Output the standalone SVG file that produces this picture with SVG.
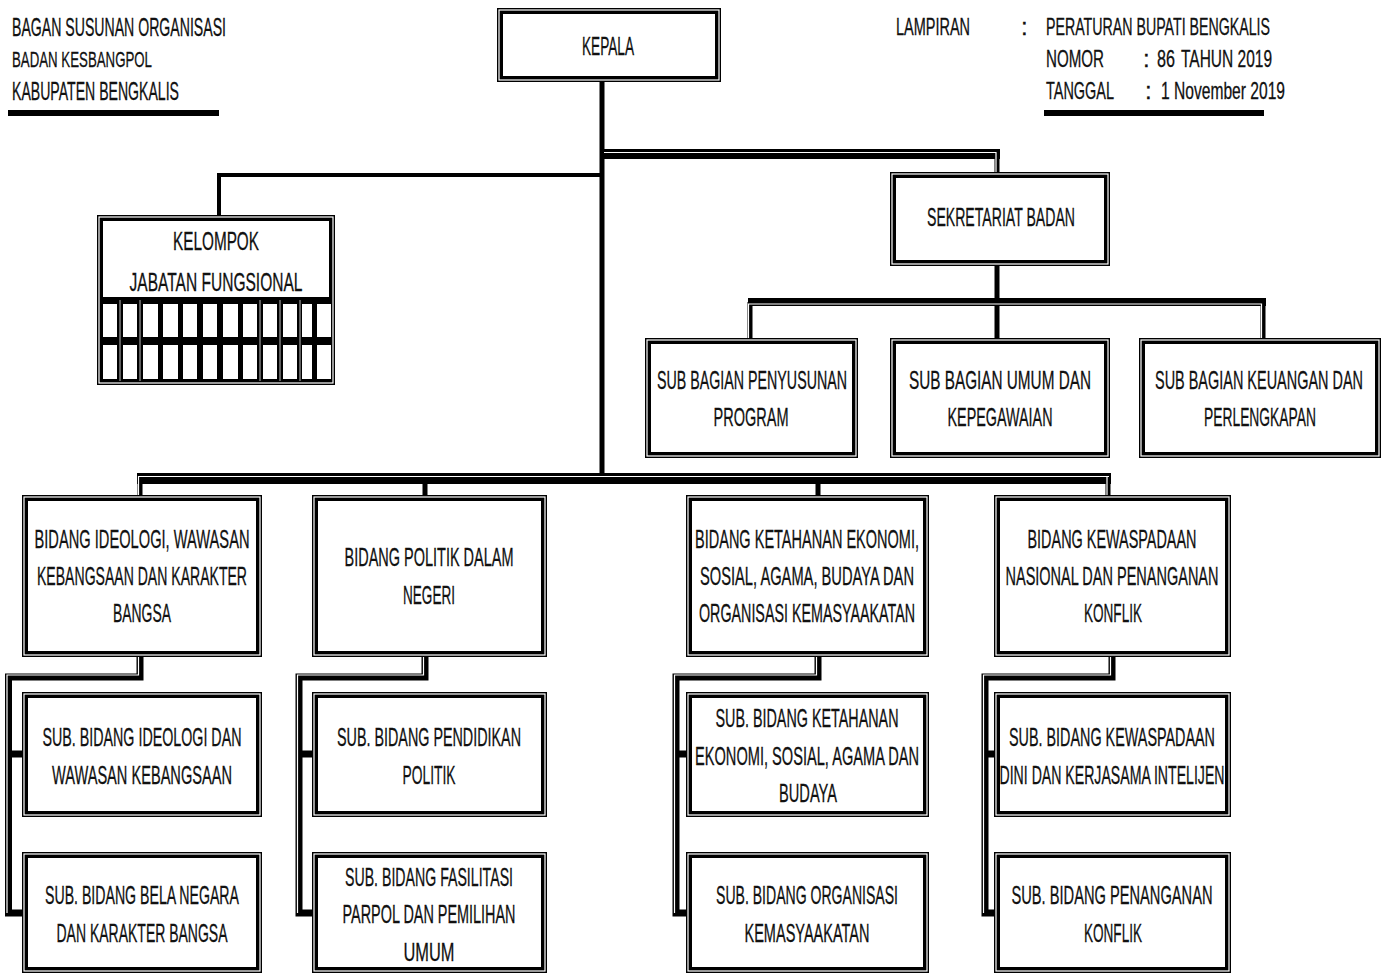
<svg xmlns="http://www.w3.org/2000/svg" width="1387" height="973" viewBox="0 0 1387 973">
<style>
text{font-family:"Liberation Sans",Arial,sans-serif;fill:#111;stroke:#111;stroke-width:0.3;}
.t{font-size:26px;text-anchor:middle;}
.h{font-size:24px;}
.b{fill:#fff;stroke:#000;stroke-width:6;}
.w{fill:none;stroke:#fff;stroke-width:1.2;}
.ln{fill:none;stroke:#000;stroke-linejoin:miter;stroke-linecap:butt;}
.wl{fill:none;stroke:#fff;stroke-width:1.2;}
</style>
<rect width="1387" height="973" fill="#fff"/>

<g id="header">
<text x="12" y="36" style="font-size:26px" textLength="214" lengthAdjust="spacingAndGlyphs">BAGAN SUSUNAN ORGANISASI</text>
<text x="12" y="67" style="font-size:22px" textLength="140" lengthAdjust="spacingAndGlyphs">BADAN KESBANGPOL</text>
<text x="12" y="100" style="font-size:25px" textLength="167" lengthAdjust="spacingAndGlyphs">KABUPATEN BENGKALIS</text>
<rect x="8" y="110" width="211" height="6" fill="#000"/>
<text class="h" x="896" y="35" textLength="74" lengthAdjust="spacingAndGlyphs">LAMPIRAN</text>
<text class="h" x="1021" y="35">:</text>
<text class="h" x="1046" y="35" textLength="224" lengthAdjust="spacingAndGlyphs">PERATURAN BUPATI BENGKALIS</text>
<text class="h" x="1046" y="67" textLength="58" lengthAdjust="spacingAndGlyphs">NOMOR</text>
<text class="h" x="1143" y="67">:</text>
<text class="h" x="1157" y="67" textLength="18" lengthAdjust="spacingAndGlyphs">86</text>
<text class="h" x="1181" y="67" textLength="91" lengthAdjust="spacingAndGlyphs">TAHUN 2019</text>
<text class="h" x="1046" y="99" textLength="68" lengthAdjust="spacingAndGlyphs">TANGGAL</text>
<text class="h" x="1145" y="99">:</text>
<text class="h" x="1161" y="99" textLength="124" lengthAdjust="spacingAndGlyphs">1 November 2019</text>
<rect x="1044" y="110" width="220" height="6" fill="#000"/>
</g>

<g id="connectors">
<path class="ln" d="M602,82 V479" stroke-width="5"/>
<path class="ln" d="M602,175 H219 V215" stroke-width="4"/>
<path class="ln" d="M600,154 H1000" stroke-width="10"/>
<path class="ln" d="M997,154 V172" stroke-width="5"/>
<path class="wl" d="M604,152.5 H996 V172"/>
<path class="ln" d="M997,266 V302" stroke-width="5"/>
<path class="ln" d="M748,302 H1266" stroke-width="8"/>
<path class="ln" d="M750,302 V338 M997,302 V338 M1263,302 V338" stroke-width="5"/>
<path class="wl" d="M748.5,338 V304 H1261.5 V338"/>
<path class="ln" d="M137,478.5 H1111" stroke-width="11"/>
<path class="ln" d="M140,478 V495 M425,478 V495 M818,478 V495 M1108,478 V495" stroke-width="5"/>
<path class="wl" d="M138.5,495 V476.5 H1109"/>
<path class="wl" d="M1107,477 V495"/>
<path class="ln" d="M140,657 V677 H8.5 V913 H22 M8.5,754 H22" stroke-width="7"/>
<path class="wl" d="M138.5,657 V675 H7 V913"/>
<path class="ln" d="M425,657 V677 H299 V913 H312 M299,754 H312" stroke-width="7"/>
<path class="wl" d="M423.5,657 V675 H297.5 V913"/>
<path class="ln" d="M818,657 V677 H676 V913 H686 M676,754 H686" stroke-width="7"/>
<path class="wl" d="M816.5,657 V675 H674.5 V913"/>
<path class="ln" d="M1112,657 V677 H985 V913 H994 M985,754 H994" stroke-width="7"/>
<path class="wl" d="M1110.5,657 V675 H983.5 V913"/>
</g>

<g id="kepala">
<rect class="b" x="500" y="11" width="218" height="68"/><rect class="w" x="499" y="10" width="220" height="70"/>
<text class="t" x="608" y="55" textLength="52" lengthAdjust="spacingAndGlyphs">KEPALA</text>
</g>

<g id="kelompok">
<rect class="b" x="100" y="218" width="232" height="164"/><rect class="w" x="99" y="217" width="234" height="166"/>
<rect x="101" y="297" width="231" height="85" fill="#000"/>
<g fill="#fff">
<rect x="103" y="304" width="14" height="33"/><rect x="123" y="304" width="14" height="33"/><rect x="143" y="304" width="15" height="33"/><rect x="163" y="304" width="15" height="33"/><rect x="183" y="304" width="14" height="33"/><rect x="203" y="304" width="14" height="33"/><rect x="223" y="304" width="15" height="33"/><rect x="243" y="304" width="14" height="33"/><rect x="263" y="304" width="14" height="33"/><rect x="283" y="304" width="14" height="33"/><rect x="302" y="304" width="10" height="33"/><rect x="317" y="304" width="14" height="33"/>
<rect x="103" y="345" width="14" height="34"/><rect x="123" y="345" width="14" height="34"/><rect x="143" y="345" width="15" height="34"/><rect x="163" y="345" width="15" height="34"/><rect x="183" y="345" width="14" height="34"/><rect x="203" y="345" width="14" height="34"/><rect x="223" y="345" width="15" height="34"/><rect x="243" y="345" width="14" height="34"/><rect x="263" y="345" width="14" height="34"/><rect x="283" y="345" width="14" height="34"/><rect x="302" y="345" width="10" height="34"/><rect x="317" y="345" width="14" height="34"/>
</g>
<path d="M120,300 V381 M140,300 V381 M260,300 V381 M280,300 V381 M300,300 V381" stroke="#bbb" stroke-width="1"/>
<text class="t" x="216" y="250" textLength="86" lengthAdjust="spacingAndGlyphs">KELOMPOK</text>
<text class="t" x="216" y="291" textLength="173" lengthAdjust="spacingAndGlyphs">JABATAN FUNGSIONAL</text>
</g>

<g id="sekretariat">
<rect class="b" x="893" y="175" width="214" height="88"/><rect class="w" x="892" y="174" width="216" height="90"/>
<text class="t" x="1001" y="226" textLength="148" lengthAdjust="spacingAndGlyphs">SEKRETARIAT BADAN</text>
</g>

<g id="subbag-program">
<rect class="b" x="648" y="341" width="207" height="114"/><rect class="w" x="647" y="340" width="209" height="116"/>
<text class="t" x="752" y="389" textLength="190" lengthAdjust="spacingAndGlyphs">SUB BAGIAN PENYUSUNAN</text>
<text class="t" x="751" y="426" textLength="75" lengthAdjust="spacingAndGlyphs">PROGRAM</text>
</g>

<g id="subbag-umum">
<rect class="b" x="893" y="341" width="214" height="114"/><rect class="w" x="892" y="340" width="216" height="116"/>
<text class="t" x="1000" y="389" textLength="182" lengthAdjust="spacingAndGlyphs">SUB BAGIAN  UMUM DAN</text>
<text class="t" x="1000" y="426" textLength="105" lengthAdjust="spacingAndGlyphs">KEPEGAWAIAN</text>
</g>

<g id="subbag-keuangan">
<rect class="b" x="1142" y="341" width="236" height="114"/><rect class="w" x="1141" y="340" width="238" height="116"/>
<text class="t" x="1259" y="389" textLength="208" lengthAdjust="spacingAndGlyphs">SUB BAGIAN KEUANGAN DAN</text>
<text class="t" x="1260" y="426" textLength="112" lengthAdjust="spacingAndGlyphs">PERLENGKAPAN</text>
</g>

<g id="bidang-ideologi">
<rect class="b" x="25" y="498" width="234" height="156"/><rect class="w" x="24" y="497" width="236" height="158"/>
<text class="t" x="142" y="548" textLength="215" lengthAdjust="spacingAndGlyphs">BIDANG IDEOLOGI, WAWASAN</text>
<text class="t" x="142" y="585" textLength="210" lengthAdjust="spacingAndGlyphs">KEBANGSAAN DAN KARAKTER</text>
<text class="t" x="142" y="622" textLength="58" lengthAdjust="spacingAndGlyphs">BANGSA</text>
</g>

<g id="bidang-politik">
<rect class="b" x="315" y="498" width="229" height="156"/><rect class="w" x="314" y="497" width="231" height="158"/>
<text class="t" x="429" y="566" textLength="169" lengthAdjust="spacingAndGlyphs">BIDANG POLITIK DALAM</text>
<text class="t" x="429" y="604" textLength="52" lengthAdjust="spacingAndGlyphs">NEGERI</text>
</g>

<g id="bidang-ketahanan">
<rect class="b" x="689" y="498" width="237" height="156"/><rect class="w" x="688" y="497" width="239" height="158"/>
<text class="t" x="807" y="548" textLength="224" lengthAdjust="spacingAndGlyphs">BIDANG KETAHANAN EKONOMI,</text>
<text class="t" x="807" y="585" textLength="214" lengthAdjust="spacingAndGlyphs">SOSIAL, AGAMA, BUDAYA DAN</text>
<text class="t" x="807" y="622" textLength="216" lengthAdjust="spacingAndGlyphs">ORGANISASI KEMASYAAKATAN</text>
</g>

<g id="bidang-kewaspadaan">
<rect class="b" x="997" y="498" width="231" height="156"/><rect class="w" x="996" y="497" width="233" height="158"/>
<text class="t" x="1112" y="548" textLength="169" lengthAdjust="spacingAndGlyphs">BIDANG KEWASPADAAN</text>
<text class="t" x="1112" y="585" textLength="213" lengthAdjust="spacingAndGlyphs">NASIONAL DAN PENANGANAN</text>
<text class="t" x="1113" y="622" textLength="58" lengthAdjust="spacingAndGlyphs">KONFLIK</text>
</g>

<g id="sub-ideologi">
<rect class="b" x="25" y="695" width="234" height="119"/><rect class="w" x="24" y="694" width="236" height="121"/>
<text class="t" x="142" y="746" textLength="199" lengthAdjust="spacingAndGlyphs">SUB. BIDANG IDEOLOGI DAN</text>
<text class="t" x="142" y="784" textLength="180" lengthAdjust="spacingAndGlyphs">WAWASAN KEBANGSAAN</text>
</g>

<g id="sub-bela-negara">
<rect class="b" x="25" y="855" width="234" height="115"/><rect class="w" x="24" y="854" width="236" height="117"/>
<text class="t" x="142" y="904" textLength="194" lengthAdjust="spacingAndGlyphs">SUB. BIDANG BELA NEGARA</text>
<text class="t" x="142" y="942" textLength="171" lengthAdjust="spacingAndGlyphs">DAN KARAKTER BANGSA</text>
</g>

<g id="sub-pendidikan">
<rect class="b" x="315" y="695" width="229" height="119"/><rect class="w" x="314" y="694" width="231" height="121"/>
<text class="t" x="429" y="746" textLength="184" lengthAdjust="spacingAndGlyphs">SUB. BIDANG PENDIDIKAN</text>
<text class="t" x="429" y="784" textLength="53" lengthAdjust="spacingAndGlyphs">POLITIK</text>
</g>

<g id="sub-fasilitasi">
<rect class="b" x="315" y="855" width="229" height="115"/><rect class="w" x="314" y="854" width="231" height="117"/>
<text class="t" x="429" y="886" textLength="168" lengthAdjust="spacingAndGlyphs">SUB. BIDANG FASILITASI</text>
<text class="t" x="429" y="923" textLength="173" lengthAdjust="spacingAndGlyphs">PARPOL DAN PEMILIHAN</text>
<text class="t" x="429" y="961" textLength="51" lengthAdjust="spacingAndGlyphs">UMUM</text>
</g>

<g id="sub-ketahanan">
<rect class="b" x="689" y="695" width="237" height="119"/><rect class="w" x="688" y="694" width="239" height="121"/>
<text class="t" x="807" y="727" textLength="183" lengthAdjust="spacingAndGlyphs">SUB. BIDANG KETAHANAN</text>
<text class="t" x="807" y="765" textLength="224" lengthAdjust="spacingAndGlyphs">EKONOMI, SOSIAL, AGAMA DAN</text>
<text class="t" x="808" y="802" textLength="58" lengthAdjust="spacingAndGlyphs">BUDAYA</text>
</g>

<g id="sub-ormas">
<rect class="b" x="689" y="855" width="237" height="115"/><rect class="w" x="688" y="854" width="239" height="117"/>
<text class="t" x="807" y="904" textLength="182" lengthAdjust="spacingAndGlyphs">SUB. BIDANG ORGANISASI</text>
<text class="t" x="807" y="942" textLength="125" lengthAdjust="spacingAndGlyphs">KEMASYAAKATAN</text>
</g>

<g id="sub-kewaspadaan">
<rect class="b" x="997" y="695" width="231" height="119"/><rect class="w" x="996" y="694" width="233" height="121"/>
<text class="t" x="1112" y="746" textLength="206" lengthAdjust="spacingAndGlyphs">SUB. BIDANG KEWASPADAAN</text>
<text class="t" x="1112" y="784" textLength="225" lengthAdjust="spacingAndGlyphs">DINI DAN KERJASAMA INTELIJEN</text>
</g>

<g id="sub-penanganan">
<rect class="b" x="997" y="855" width="231" height="115"/><rect class="w" x="996" y="854" width="233" height="117"/>
<text class="t" x="1112" y="904" textLength="201" lengthAdjust="spacingAndGlyphs">SUB. BIDANG  PENANGANAN</text>
<text class="t" x="1113" y="942" textLength="58" lengthAdjust="spacingAndGlyphs">KONFLIK</text>
</g>
</svg>
